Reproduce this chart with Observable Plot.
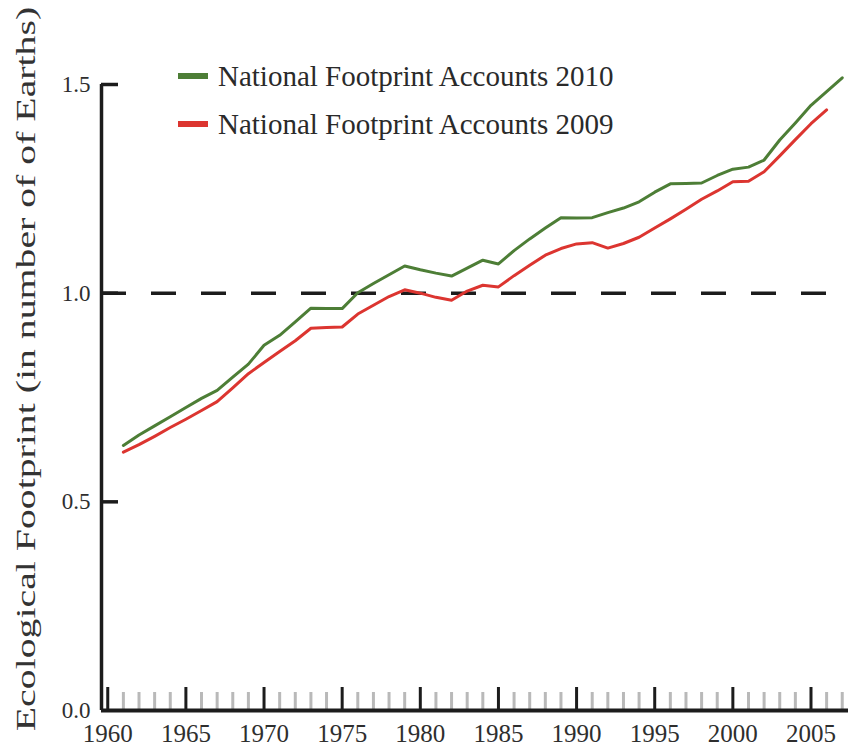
<!DOCTYPE html>
<html>
<head>
<meta charset="utf-8">
<script src="https://cdn.jsdelivr.net/npm/d3@7"></script>
<script src="https://cdn.jsdelivr.net/npm/@observablehq/plot@0.6"></script>
<style>
  body { margin: 0; background: #fff; }
  #wrap { position: relative; width: 848px; height: 750px; overflow: hidden; font-family: "Liberation Serif", "DejaVu Serif", serif; }
  #chart { position: absolute; left: 0; top: 0; }
  #ytitle { position: absolute; left: 26px; top: 369px; white-space: nowrap; font-size: 28px; color: #333;
            transform: translate(-50%, -50%) rotate(-90deg) scaleX(1.42); }
  #legend { position: absolute; left: 178px; top: 52px; }
  .item { display: flex; align-items: center; height: 48px; font-size: 29px; color: #2a2a2a; white-space: nowrap; }
  .sw { width: 30px; height: 6px; margin-right: 10px; }
</style>
</head>
<body>
<div id="wrap">
  <div id="chart"></div>
  <div id="ytitle"></div>
  <div id="legend"></div>
</div>
<script>
// ---- data ----
const years2010 = [1961,1962,1963,1964,1965,1966,1967,1968,1969,1970,
  1971,1972,1973,1974,1975,1976,1977,1978,1979,1980,
  1981,1982,1983,1984,1985,1986,1987,1988,1989,1990,
  1991,1992,1993,1994,1995,1996,1997,1998,1999,2000,
  2001,2002,2003,2004,2005,2006,2007];
const footprint2010 = [0.635,0.660,0.682,0.704,0.726,0.748,0.767,0.799,0.830,0.875,
  0.899,0.931,0.964,0.963,0.963,1.001,1.023,1.044,1.065,1.056,
  1.048,1.041,1.060,1.079,1.070,1.102,1.130,1.156,1.181,1.180,
  1.181,1.193,1.204,1.219,1.242,1.262,1.263,1.264,1.282,1.297,
  1.302,1.319,1.367,1.408,1.450,1.483,1.516];
const years2009 = [1961,1962,1963,1964,1965,1966,1967,1968,1969,1970,
  1971,1972,1973,1974,1975,1976,1977,1978,1979,1980,
  1981,1982,1983,1984,1985,1986,1987,1988,1989,1990,
  1991,1992,1993,1994,1995,1996,1997,1998,1999,2000,
  2001,2002,2003,2004,2005,2006];
const footprint2009 = [0.619,0.637,0.657,0.678,0.698,0.719,0.740,0.773,0.807,0.834,
  0.860,0.886,0.916,0.918,0.919,0.950,0.971,0.992,1.008,1.000,
  0.990,0.983,1.005,1.019,1.015,1.042,1.067,1.091,1.107,1.118,
  1.121,1.108,1.119,1.134,1.156,1.178,1.201,1.225,1.245,1.267,
  1.268,1.291,1.329,1.368,1.406,1.439];
const seriesNames = ["National Footprint Accounts 2010", "National Footprint Accounts 2009"];
const majorYears = [1960,1965,1970,1975,1980,1985,1990,1995,2000,2005];
const minorYears = [1961,1962,1963,1964,1966,1967,1968,1969,1971,1972,1973,1974,
  1976,1977,1978,1979,1981,1982,1983,1984,1986,1987,1988,1989,1991,1992,1993,1994,
  1996,1997,1998,1999,2001,2002,2003,2004,2006,2007];
const yTicks = [0.0, 0.5, 1.0, 1.5];
const yTickMarks = [0.5, 1.0, 1.5];
const oneEarth = [1.0];
const yTitle = "Ecological Footprint (in number of of Earths)";

const green = "#4d7e36";
const red = "#dc3530";

const data2010 = years2010.map((y, i) => ({year: y, value: footprint2010[i]}));
const data2009 = years2009.map((y, i) => ({year: y, value: footprint2009[i]}));

const xMin = 1959.6, xMax = 2007.4;

const chart = Plot.plot({
  width: 848,
  height: 750,
  marginLeft: 101,
  marginRight: 0,
  marginTop: 84,
  marginBottom: 40,
  x: {domain: [xMin, xMax]},
  y: {domain: [0, 1.5]},
  style: {fontFamily: "Liberation Serif, DejaVu Serif, serif", background: "transparent", color: "#2e2e2e", overflow: "visible"},
  marks: [
    Plot.ruleY(oneEarth, {x1: xMin, x2: 2006.5, stroke: "#1c1c1c", strokeWidth: 3.5, strokeDasharray: "25,25"}),
    Plot.line(data2009, {x: "year", y: "value", stroke: red, strokeWidth: 3}),
    Plot.line(data2010, {x: "year", y: "value", stroke: green, strokeWidth: 3}),
    // x axis
    Plot.axisX(minorYears, {tickSize: -18, stroke: "#b9b9b9", strokeWidth: 3, text: null, label: null}),
    Plot.axisX(majorYears, {tickSize: -23, stroke: "#1c1c1c", strokeWidth: 3, text: null, label: null}),
    Plot.axisX(majorYears, {tickSize: 0, tickPadding: 14, fontSize: 25, tickFormat: d => String(d), label: null}),
    Plot.ruleY([0], {stroke: "#1c1c1c", strokeWidth: 4}),
    // y axis
    Plot.axisY(yTickMarks, {tickSize: -17, stroke: "#1c1c1c", strokeWidth: 3.5, text: null, label: null}),
    Plot.axisY(yTicks, {tickSize: 0, tickPadding: 11, fontSize: 23, tickFormat: d3.format(".1f"), label: null}),
    Plot.ruleX([xMin], {y1: 0, y2: 1.5, stroke: "#1c1c1c", strokeWidth: 3.5})
  ]
});
document.getElementById("chart").appendChild(chart);

document.getElementById("ytitle").textContent = yTitle;
const legend = document.getElementById("legend");
[[seriesNames[0], green], [seriesNames[1], red]].forEach(([name, color]) => {
  const item = document.createElement("div");
  item.className = "item";
  const sw = document.createElement("span");
  sw.className = "sw";
  sw.style.background = color;
  const label = document.createElement("span");
  label.textContent = name;
  item.appendChild(sw);
  item.appendChild(label);
  legend.appendChild(item);
});
</script>
</body>
</html>
